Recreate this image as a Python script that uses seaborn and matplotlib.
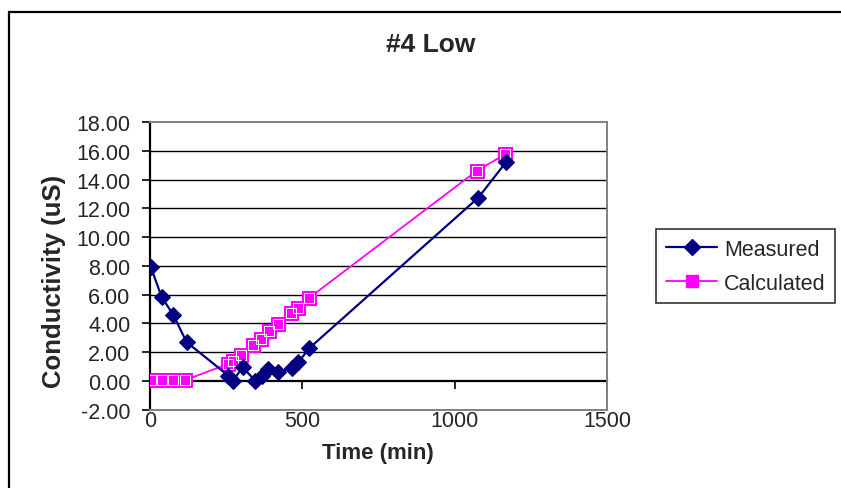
import matplotlib
matplotlib.use("Agg")
import matplotlib.pyplot as plt
from matplotlib.patches import Rectangle
from matplotlib.lines import Line2D
import seaborn as sns
import pandas as pd

# Measured conductivity readings
measured_time = [3, 38, 77, 120, 257, 273, 304, 345, 366, 388, 421, 465, 487, 523, 1078, 1168]
measured_cond = [7.90, 5.85, 4.57, 2.70, 0.37, 0.02, 0.96, 0.02, 0.37, 0.84, 0.60, 0.89, 1.30, 2.28, 12.75, 15.20]

# Calculated conductivity
calc_time = [3, 38, 77, 115, 257, 273, 299, 339, 364, 392, 419, 463, 485, 523, 1072, 1165]
calc_cond = [0.05, 0.05, 0.05, 0.05, 1.19, 1.42, 1.77, 2.47, 2.94, 3.45, 3.99, 4.69, 5.10, 5.78, 14.60, 15.75]

x_ticks = [0, 500, 1000, 1500]
y_ticks = [-2, 0, 2, 4, 6, 8, 10, 12, 14, 16, 18]

NAVY = "#000080"
MAGENTA = "#FF00FF"

sns.set_style("white")
plt.rcParams["font.family"] = ["Liberation Sans", "DejaVu Sans"]

fig = plt.figure(figsize=(8.41, 4.89), dpi=100)
ax = fig.add_axes([150 / 841, 1 - 410.7 / 489, 457 / 841, (410.7 - 123) / 489])

df_m = pd.DataFrame({"t": measured_time, "c": measured_cond})
df_c = pd.DataFrame({"t": calc_time, "c": calc_cond})

# horizontal gridlines
for yv in y_ticks[2:-1]:
    ax.axhline(yv, color="black", lw=1.0, zorder=1)

sns.lineplot(data=df_c, x="t", y="c", sort=False, estimator=None, ax=ax,
             color=MAGENTA, lw=1.3, marker="s", markersize=10,
             markerfacecolor=MAGENTA, markeredgecolor=MAGENTA, zorder=3)
ax.plot(calc_time, calc_cond, ls="none", marker="s", markersize=6.5,
        markerfacecolor="none", markeredgecolor="white", markeredgewidth=0.7, zorder=4)
sns.lineplot(data=df_m, x="t", y="c", sort=False, estimator=None, ax=ax,
             color=NAVY, lw=1.6, marker="D", markersize=8.5,
             markerfacecolor=NAVY, markeredgecolor=NAVY, zorder=5)

ax.set_xlim(0, 1500)
ax.set_ylim(-2, 18)
ax.set_xticks(x_ticks)
ax.set_yticks(y_ticks)
ax.set_yticklabels([f"{v:.2f}" for v in y_ticks])
ax.tick_params(axis="y", direction="out", length=6, width=1.2, color="black",
               pad=8, labelsize=15.5, left=True)
ax.tick_params(axis="x", length=0, pad=0, labelsize=15.5)

for side in ("top", "right", "bottom"):
    ax.spines[side].set_color("#808080")
    ax.spines[side].set_linewidth(1.4)
ax.spines["left"].set_color("black")
ax.spines["left"].set_linewidth(1.6)

# x axis line crossing at zero
zero_axis = ax.secondary_xaxis(2 / 20)
zero_axis.set_xticks(x_ticks)
zero_axis.set_xticklabels([])
zero_axis.tick_params(direction="out", length=6, width=1.2, color="black")
zero_axis.spines["bottom"].set_color("black")
zero_axis.spines["bottom"].set_linewidth(1.6)

ax.set_xlabel("")
ax.set_ylabel("")
fig.text(378 / 841, 1 - 454 / 489, "Time (min)", ha="center", va="center",
         fontsize=16, fontweight="bold")
fig.text(54 / 841, 1 - 281 / 489, "Conductivity (uS)", ha="center", va="center",
         rotation=90, fontsize=18.5, fontweight="bold")
fig.text(431 / 841, 1 - 45 / 489, "#4 Low", ha="center", va="center",
         fontsize=19, fontweight="bold")

# legend
h_m = Line2D([], [], color=NAVY, lw=1.6, marker="D", markersize=8.5,
             markerfacecolor=NAVY, markeredgecolor=NAVY)
h_c = Line2D([], [], color=MAGENTA, lw=1.3, marker="s", markersize=9,
             markerfacecolor=MAGENTA, markeredgecolor=MAGENTA)
leg = fig.legend([h_m, h_c], ["Measured", "Calculated"], loc="upper left",
                 bbox_to_anchor=(656 / 841, 1 - 230 / 489), fontsize=15.5,
                 frameon=True, fancybox=False, edgecolor="black",
                 handlelength=2.4, handletextpad=0.3, borderpad=0.45,
                 labelspacing=0.6, borderaxespad=0)
leg.get_frame().set_linewidth(1.2)

# outer chart border
fig.patches.append(Rectangle((9 / 841, -0.1), 1.2, 1 - 13 / 489 + 0.1,
                             transform=fig.transFigure, fill=False,
                             edgecolor="black", lw=1.6))

fig.savefig("out.png", dpi=100)
